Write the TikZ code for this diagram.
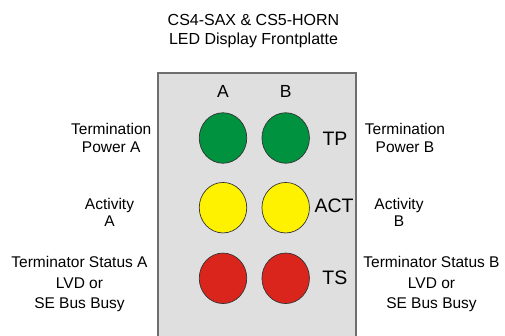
\documentclass[tikz,border=0pt]{standalone}
\usepackage{fontspec}
\setmainfont{Liberation Sans}
\usepackage{tikz}
\usetikzlibrary{shapes.geometric}

\definecolor{panelgray}{HTML}{DFDFDF}
\definecolor{edgegray}{HTML}{6E6E6E}
\definecolor{ledgreen}{HTML}{00923F}
\definecolor{ledyellow}{HTML}{FFF200}
\definecolor{ledred}{HTML}{DA251D}

\tikzset{
  led/.style={ellipse,draw=black!80,line width=0.7pt,inner sep=0pt,
    minimum width=47.5pt,minimum height=50.5pt},
  side/.style={align=center,font=\fontsize{15.5}{17.7}\selectfont},
  code/.style={font=\fontsize{19.5}{22}\selectfont}
}

\begin{document}
\begin{tikzpicture}[x=1pt,y=-1pt]

\useasboundingbox (0,0) rectangle (505,336);

% definitions
\coordinate (P1) at (158,73);
\coordinate (P2) at (356,345);

\begin{scope}
\clip (0,0) rectangle (505,336);
\draw[draw=edgegray,fill=panelgray,line width=1.4pt] (P1) rectangle (P2);
\end{scope}

\node[led,fill=ledgreen] (tpA) at (223,138) {};
\node[led,fill=ledgreen] (tpB) at (285.7,138) {};
\node[led,fill=ledyellow] (actA) at (223,207.7) {};
\node[led,fill=ledyellow] (actB) at (285.7,207.7) {};
\node[led,fill=ledred] (tsA) at (223,278.3) {};
\node[led,fill=ledred] (tsB) at (285.7,278.3) {};

% labels
\node[align=center,font=\fontsize{16}{18.3}\selectfont] (title) at (253.5,31) {CS4-SAX \& CS5-HORN\\LED Display Frontplatte};
\node[font=\fontsize{17.5}{20}\selectfont] (colA) at (223,91.3) {A};
\node[font=\fontsize{17.5}{20}\selectfont] (colB) at (285.7,91.3) {B};

\node[code] (TP) at (335,139) {TP};
\node[code] (ACT) at (334,206) {ACT};
\node[code] (TS) at (334.8,278) {TS};

\node[side] (tpAtxt) at (111.2,138) {Termination\\Power A};
\node[side] (tpBtxt) at (405,138) {Termination\\Power B};
\node[side,font=\fontsize{15.5}{16.5}\selectfont] (actAtxt) at (109.5,212.5) {Activity\\A};
\node[side,font=\fontsize{15.5}{16.5}\selectfont] (actBtxt) at (399,212.5) {Activity\\B};
\node[side,font=\fontsize{15.5}{20.5}\selectfont] (tsAtxt) at (79.5,284) {Terminator Status A\\LVD or\\SE Bus Busy};
\node[side,font=\fontsize{15.5}{20.5}\selectfont] (tsBtxt) at (431.5,284) {Terminator Status B\\LVD or\\SE Bus Busy};

\end{tikzpicture}
\end{document}
